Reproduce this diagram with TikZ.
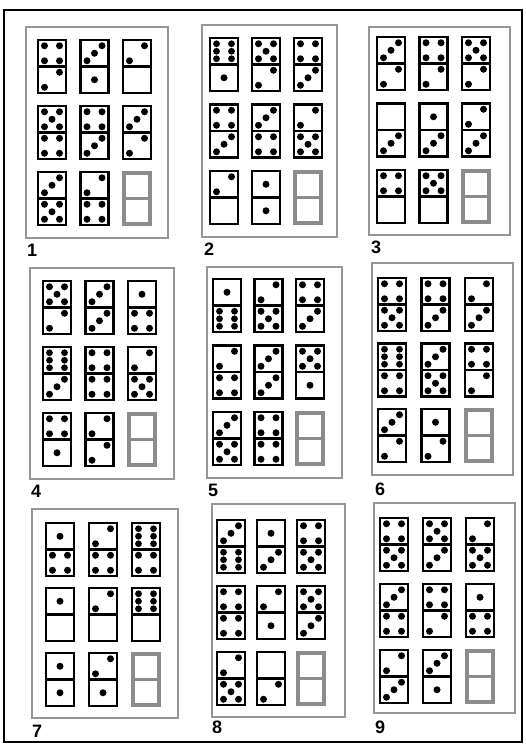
\documentclass[tikz,border=0pt]{standalone}
\usepackage{fontspec}
\setmainfont{Liberation Sans}
\usepackage{tikz}
\usetikzlibrary{positioning}
\usepackage{xcolor}
\definecolor{panelgray}{RGB}{150,150,150}
\definecolor{slotgray}{RGB}{140,140,140}

% pips of one half, centred on (0,0); y runs downwards
\newcommand{\dface}[1]{%
  \ifcase#1\relax
  \or \fill (0,0) circle (3.5);
  \or \fill (7.5,-7.5) circle (3.5); \fill (-7.5,7.5) circle (3.5);
  \or \fill (7.5,-7.5) circle (3.5); \fill (0,0) circle (3.5);
      \fill (-7.5,7.5) circle (3.5);
  \or \foreach \dx in {-7.5,7.5} \foreach \dy in {-7.5,7.5}
        \fill (\dx,\dy) circle (3.5);
  \or \foreach \dx in {-7.5,7.5} \foreach \dy in {-7.5,7.5}
        \fill (\dx,\dy) circle (3.5);
      \fill (0,0) circle (3.5);
  \or \foreach \dx in {-7.5,7.5} \foreach \dy in {-7.5,0,7.5}
        \fill (\dx,\dy) circle (3.4);
  \fi}

\tikzset{
  frame/.style={draw=black, line width=2pt},
  panelbox/.style={draw=panelgray, line width=2pt},
  dom/.style={draw=black, line width=2.4pt, fill=white},
  domslot/.style={draw=slotgray, line width=3.4pt},
  num/.style={font=\bfseries\fontsize{18}{18}\selectfont, anchor=west,
    inner sep=0pt},
  pics/domino/.style args={#1/#2}{code={
    \draw[dom] (-14,-26.5) rectangle (14,26.5);
    \draw[dom] (-14,0) -- (14,0);
    \begin{scope}[shift={(0,-13.25)}] \dface{#1} \end{scope}
    \begin{scope}[shift={(0,13.25)}] \dface{#2} \end{scope}
  }},
  pics/slot/.style={code={
    \draw[domslot] (-13,-25.5) rectangle (13,25.5);
    \draw[domslot] (-13,0) -- (13,0);
  }},
}

\begin{document}
\begin{tikzpicture}[x=1pt, y=-1pt]
  \useasboundingbox (0,0) rectangle (526,745);

  % ---- outer frame ----
  \draw[frame] (4,10) rectangle (522,742);

  % ---- Puzzle 1 ----
  \draw[panelbox] (26,27) rectangle (168,238);
  \foreach \t/\b [count=\i from 0] in {4/2,3/1,2/0,5/4,4/3,3/2,3/5,2/4}
    \pic at ({52+42.5*mod(\i,3)},{66.5+66*int(\i/3)}) {domino=\t/\b};
  \pic at (137,198.5) {slot};
  \node[num] (lab1) at (27,250) {1};

  % ---- Puzzle 2 ----
  \draw[panelbox] (202,25) rectangle (337,237);
  \foreach \t/\b [count=\i from 0] in {6/1,5/2,4/3,4/3,3/4,2/5,2/0,1/1}
    \pic at ({224+42*mod(\i,3)},{64.5+66.5*int(\i/3)}) {domino=\t/\b};
  \pic at (308,197.5) {slot};
  \node[num] (lab2) at (204,249) {2};

  % ---- Puzzle 3 ----
  \draw[panelbox] (369,27) rectangle (510,235);
  \foreach \t/\b [count=\i from 0] in {3/2,4/2,5/2,0/3,1/3,2/3,4/0,5/0}
    \pic at ({391+42.5*mod(\i,3)},{63.5+66.5*int(\i/3)}) {domino=\t/\b};
  \pic at (476,196.5) {slot};
  \node[num] (lab3) at (371,247) {3};

  % ---- Puzzle 4 ----
  \draw[panelbox] (30,268) rectangle (174,479);
  \foreach \t/\b [count=\i from 0] in {5/2,3/3,1/4,6/3,4/4,2/5,4/1,2/2}
    \pic at ({57+42.5*mod(\i,3)},{307.5+66*int(\i/3)}) {domino=\t/\b};
  \pic at (142,439.5) {slot};
  \node[num] (lab4) at (31,491) {4};

  % ---- Puzzle 5 ----
  \draw[panelbox] (207,267) rectangle (342,478);
  \foreach \t/\b [count=\i from 0] in {1/6,2/5,4/3,2/4,3/3,5/1,3/5,4/4}
    \pic at ({227+41.5*mod(\i,3)},{305.5+66.5*int(\i/3)}) {domino=\t/\b};
  \pic at (310,438.5) {slot};
  \node[num] (lab5) at (208,490) {5};

  % ---- Puzzle 6 ----
  \draw[panelbox] (372,263) rectangle (513,475);
  \foreach \t/\b [count=\i from 0] in {4/5,4/3,2/3,6/4,3/5,4/2,3/2,1/2}
    \pic at ({392+43.5*mod(\i,3)},{304.5+65.5*int(\i/3)}) {domino=\t/\b};
  \pic at (479,435.5) {slot};
  \node[num] (lab6) at (375,489) {6};

  % ---- Puzzle 7 ----
  \draw[panelbox] (32,509) rectangle (178,718);
  \foreach \t/\b [count=\i from 0] in {1/4,2/4,6/4,1/0,2/0,6/0,1/1,2/1}
    \pic at ({60+43*mod(\i,3)},{549.5+65*int(\i/3)}) {domino=\t/\b};
  \pic at (146,679.5) {slot};
  \node[num] (lab7) at (32,731) {7};

  % ---- Puzzle 8 ----
  \draw[panelbox] (212,504) rectangle (345,717);
  \foreach \t/\b [count=\i from 0] in {3/6,1/3,4/5,4/4,2/1,5/3,2/5,0/2}
    \pic at ({231+40*mod(\i,3)},{546.5+66*int(\i/3)}) {domino=\t/\b};
  \pic at (311,678.5) {slot};
  \node[num] (lab8) at (212,727) {8};

  % ---- Puzzle 9 ----
  \draw[panelbox] (374,503) rectangle (515,713);
  \foreach \t/\b [count=\i from 0] in {4/5,5/3,2/5,3/4,4/2,1/4,2/3,3/1}
    \pic at ({394+43*mod(\i,3)},{544.5+66*int(\i/3)}) {domino=\t/\b};
  \pic at (480,676.5) {slot};
  \node[num] (lab9) at (375,727) {9};
\end{tikzpicture}
\end{document}
